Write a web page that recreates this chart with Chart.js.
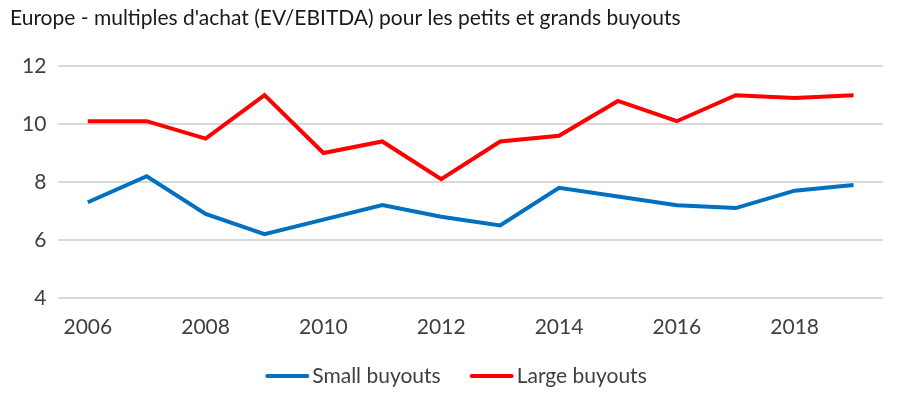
<!DOCTYPE html>
<html><head><meta charset="utf-8">
<script src="https://cdn.jsdelivr.net/npm/chart.js@4/dist/chart.umd.min.js"></script>
<style>html,body{margin:0;padding:0;background:#fff}#wrap{width:914px;height:393px}</style>
</head><body><div id="wrap"><canvas id="c"></canvas></div>
<script>
const years = ['2006','2007','2008','2009','2010','2011','2012','2013','2014','2015','2016','2017','2018','2019'];
const smallBuyouts = [7.3, 8.2, 6.9, 6.2, 6.7, 7.2, 6.8, 6.5, 7.8, 7.5, 7.2, 7.1, 7.7, 7.9];
const largeBuyouts = [10.1, 10.1, 9.5, 11.0, 9.0, 9.4, 8.1, 9.4, 9.6, 10.8, 10.1, 11.0, 10.9, 11.0];
const yTicks = [4, 6, 8, 10, 12];
const FONT = "Lato, 'Open Sans', sans-serif";

const legendPlugin = {
  id: 'customLegend',
  afterDraw(chart) {
    const ctx = chart.ctx;
    const items = chart.data.datasets;
    const lineW = 44, gapText = 3, gapItem = 29, y = 376;
    ctx.save();
    ctx.font = "21px " + FONT;
    ctx.textBaseline = 'middle';
    const widths = items.map(d => lineW + gapText + ctx.measureText(d.label).width);
    const total = widths.reduce((a, b) => a + b, 0) + gapItem * (items.length - 1);
    let x = 456 - total / 2;
    items.forEach((d, i) => {
      ctx.strokeStyle = d.borderColor;
      ctx.lineWidth = 4;
      ctx.lineCap = 'round';
      ctx.beginPath();
      ctx.moveTo(x + 2, y);
      ctx.lineTo(x + lineW - 2, y);
      ctx.stroke();
      ctx.fillStyle = '#404040';
      ctx.fillText(d.label, x + lineW + gapText, y);
      x += widths[i] + gapItem;
    });
    ctx.restore();
  }
};

new Chart(document.getElementById('c'), {
  type: 'line',
  data: {
    labels: years,
    datasets: [
      {label: 'Small buyouts', data: smallBuyouts, borderColor: '#0070C0', backgroundColor: '#0070C0', borderWidth: 4, pointRadius: 0, tension: 0},
      {label: 'Large buyouts', data: largeBuyouts, borderColor: '#FF0000', backgroundColor: '#FF0000', borderWidth: 4, pointRadius: 0, tension: 0}
    ]
  },
  options: {
    responsive: true, maintainAspectRatio: false, animation: false,
    layout: {padding: {left: 10, right: 31, top: 6, bottom: 36}},
    plugins: {
      title: {display: true, text: "Europe - multiples d'achat (EV/EBITDA) pour les petits et grands buyouts", align: 'start', color: '#1a1a1a', font: {family: FONT, size: 21, weight: 'normal'}, padding: {top: 0, bottom: 35}},
      legend: {display: false},
      tooltip: {enabled: false}
    },
    scales: {
      x: {
        offset: true,
        grid: {display: false, drawTicks: false},
        border: {display: false},
        ticks: {color: '#404040', font: {family: FONT, size: 21}, padding: 17, autoSkip: false, maxRotation: 0,
          callback: function(v, i) { return i % 2 === 0 ? years[i] : ''; }}
      },
      y: {
        min: 4, max: 12,
        afterBuildTicks: function(s) { s.ticks = yTicks.map(v => ({value: v})); },
        grid: {color: '#d9d9d9', lineWidth: 2, drawTicks: false},
        border: {display: false},
        ticks: {color: '#404040', font: {family: FONT, size: 21}, padding: 12}
      }
    }
  },
  plugins: [legendPlugin]
});
</script></body></html>
